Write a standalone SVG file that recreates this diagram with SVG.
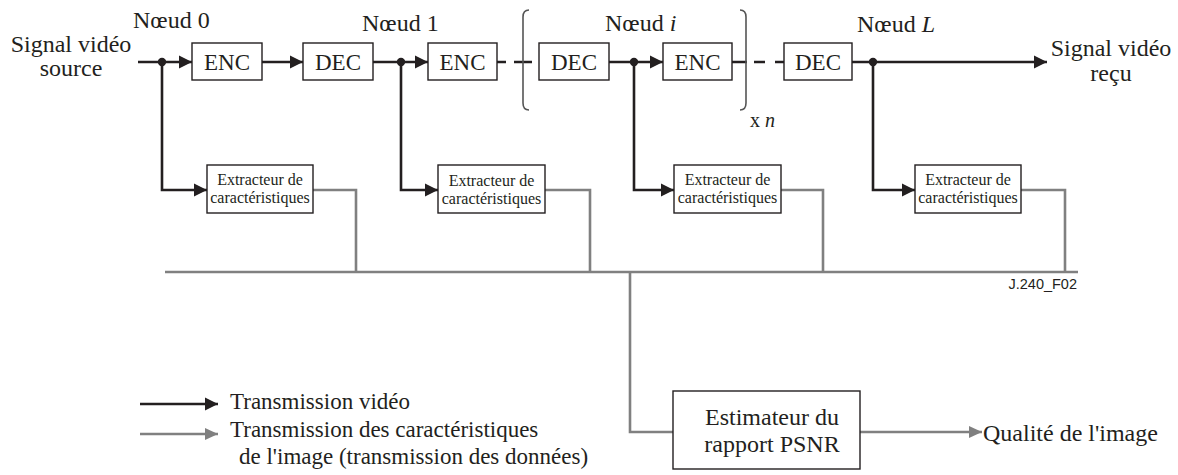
<svg xmlns="http://www.w3.org/2000/svg" width="1178" height="475" viewBox="0 0 1178 475">
<style>
text{font-family:"Liberation Serif","Times New Roman",serif;fill:#231f20}
.t{font-size:24px}
.l{font-size:23px}
.b{font-size:23px}
.s{font-size:16px}
.box{fill:#fff;stroke:#231f20;stroke-width:1.4}
.k{fill:none;stroke:#231f20;stroke-width:2.6}
.g{fill:none;stroke:#808080;stroke-width:2.6}
.br{fill:none;stroke:#555;stroke-width:1.6}
</style>
<defs>
<marker id="ak" markerUnits="userSpaceOnUse" markerWidth="14" markerHeight="14" refX="13" refY="7" orient="auto"><path d="M0,0.5 L13,7 L0,13.5 z" fill="#231f20"/></marker>
<marker id="ag" markerUnits="userSpaceOnUse" markerWidth="14" markerHeight="14" refX="13" refY="7" orient="auto"><path d="M0,1 L13,7 L0,13 z" fill="#808080"/></marker>
</defs>
<g id="connectors">
<path class="k" d="M138,62 H192" marker-end="url(#ak)"/>
<path class="k" d="M262,62 H303" marker-end="url(#ak)"/>
<path class="k" d="M373,62 H428" marker-end="url(#ak)"/>
<path class="k" d="M497,62 H506 M514,62 H532"/>
<path class="k" d="M609,62 H663" marker-end="url(#ak)"/>
<path class="k" d="M732,62 H747 M754,62 H765 M775,62 H784"/>
<path class="k" d="M852,62 H1047" marker-end="url(#ak)"/>
<path class="k" d="M162,62 V190 H207" marker-end="url(#ak)"/>
<path class="k" d="M401,62 V190 H438" marker-end="url(#ak)"/>
<path class="k" d="M634,62 V190 H674" marker-end="url(#ak)"/>
<path class="k" d="M873,62 V190 H915" marker-end="url(#ak)"/>
<circle cx="162" cy="62" r="4.2" fill="#231f20"/>
<circle cx="401" cy="62" r="4.2" fill="#231f20"/>
<circle cx="634" cy="62" r="4.2" fill="#231f20"/>
<circle cx="873" cy="62" r="4.2" fill="#231f20"/>
<path class="g" d="M313,190 H356 V272"/>
<path class="g" d="M545,190 H590 V272"/>
<path class="g" d="M781,190 H823 V272"/>
<path class="g" d="M1021,190 H1065 V272"/>
<path class="g" d="M165,272 H1078"/>
<path class="g" d="M630,272 V432 H673"/>
<path class="g" d="M860,432 H982" marker-end="url(#ag)"/>
<path class="k" d="M140,404 H218" marker-end="url(#ak)"/>
<path class="g" d="M140,434 H218" marker-end="url(#ag)"/>
</g>
<g id="brackets">
<path class="br" d="M529,10 Q523,10 523,17 V103 Q523,110 529,110"/>
<path class="br" d="M740,10 Q746,10 746,17 V103 Q746,110 740,110"/>
<text x="750" y="127" style="font-size:20px">x <tspan font-style="italic">n</tspan></text>
</g>
<g id="labels">
<text class="t" x="71" y="52" text-anchor="middle">Signal vidéo</text>
<text class="t" x="71" y="76" text-anchor="middle">source</text>
<text class="t" x="1111" y="56" text-anchor="middle">Signal vidéo</text>
<text class="t" x="1111" y="81" text-anchor="middle">reçu</text>
<text class="t" x="133" y="28">Nœud 0</text>
<text class="t" x="362" y="31">Nœud 1</text>
<text class="t" x="605" y="31">Nœud <tspan font-style="italic">i</tspan></text>
<text class="t" x="857" y="32">Nœud <tspan font-style="italic">L</tspan></text>
<text x="1077" y="289" text-anchor="end" style="font-family:'Liberation Sans',Arial,sans-serif;font-size:14.5px">J.240_F02</text>
<text class="t" x="983" y="441">Qualité de l'image</text>
</g>
<g id="enc0"><rect class="box" x="192" y="43" width="70" height="37"/><text class="b" x="227" y="70" text-anchor="middle">ENC</text></g>
<g id="dec1"><rect class="box" x="303" y="43" width="70" height="37"/><text class="b" x="338" y="70" text-anchor="middle">DEC</text></g>
<g id="enc1"><rect class="box" x="428" y="43" width="69" height="37"/><text class="b" x="462.5" y="70" text-anchor="middle">ENC</text></g>
<g id="deci"><rect class="box" x="539" y="43" width="70" height="37"/><text class="b" x="574" y="70" text-anchor="middle">DEC</text></g>
<g id="enci"><rect class="box" x="663" y="43" width="69" height="37"/><text class="b" x="697.5" y="70" text-anchor="middle">ENC</text></g>
<g id="decL"><rect class="box" x="784" y="43" width="68" height="37"/><text class="b" x="818" y="70" text-anchor="middle">DEC</text></g>
<g id="ext0"><rect class="box" x="207" y="165" width="106" height="48"/><text class="s" x="260" y="185" text-anchor="middle">Extracteur de</text><text class="s" x="260" y="203" text-anchor="middle">caractéristiques</text></g>
<g id="ext1"><rect class="box" x="438" y="165" width="107" height="48"/><text class="s" x="491.5" y="186" text-anchor="middle">Extracteur de</text><text class="s" x="491.5" y="204" text-anchor="middle">caractéristiques</text></g>
<g id="exti"><rect class="box" x="674" y="165" width="107" height="48"/><text class="s" x="727.5" y="185" text-anchor="middle">Extracteur de</text><text class="s" x="727.5" y="203" text-anchor="middle">caractéristiques</text></g>
<g id="extL"><rect class="box" x="915" y="165" width="106" height="48"/><text class="s" x="968" y="185" text-anchor="middle">Extracteur de</text><text class="s" x="968" y="203" text-anchor="middle">caractéristiques</text></g>
<g id="psnr"><rect class="box" x="673" y="391" width="187" height="78"/><text class="t" x="772" y="425" text-anchor="middle">Estimateur du</text><text class="t" x="772" y="452" text-anchor="middle">rapport PSNR</text></g>
<g id="legend">
<text class="l" x="230" y="409">Transmission vidéo</text>
<text class="l" x="230" y="437">Transmission des caractéristiques</text>
<text class="l" x="239" y="464">de l'image (transmission des données)</text>
</g>
</svg>
